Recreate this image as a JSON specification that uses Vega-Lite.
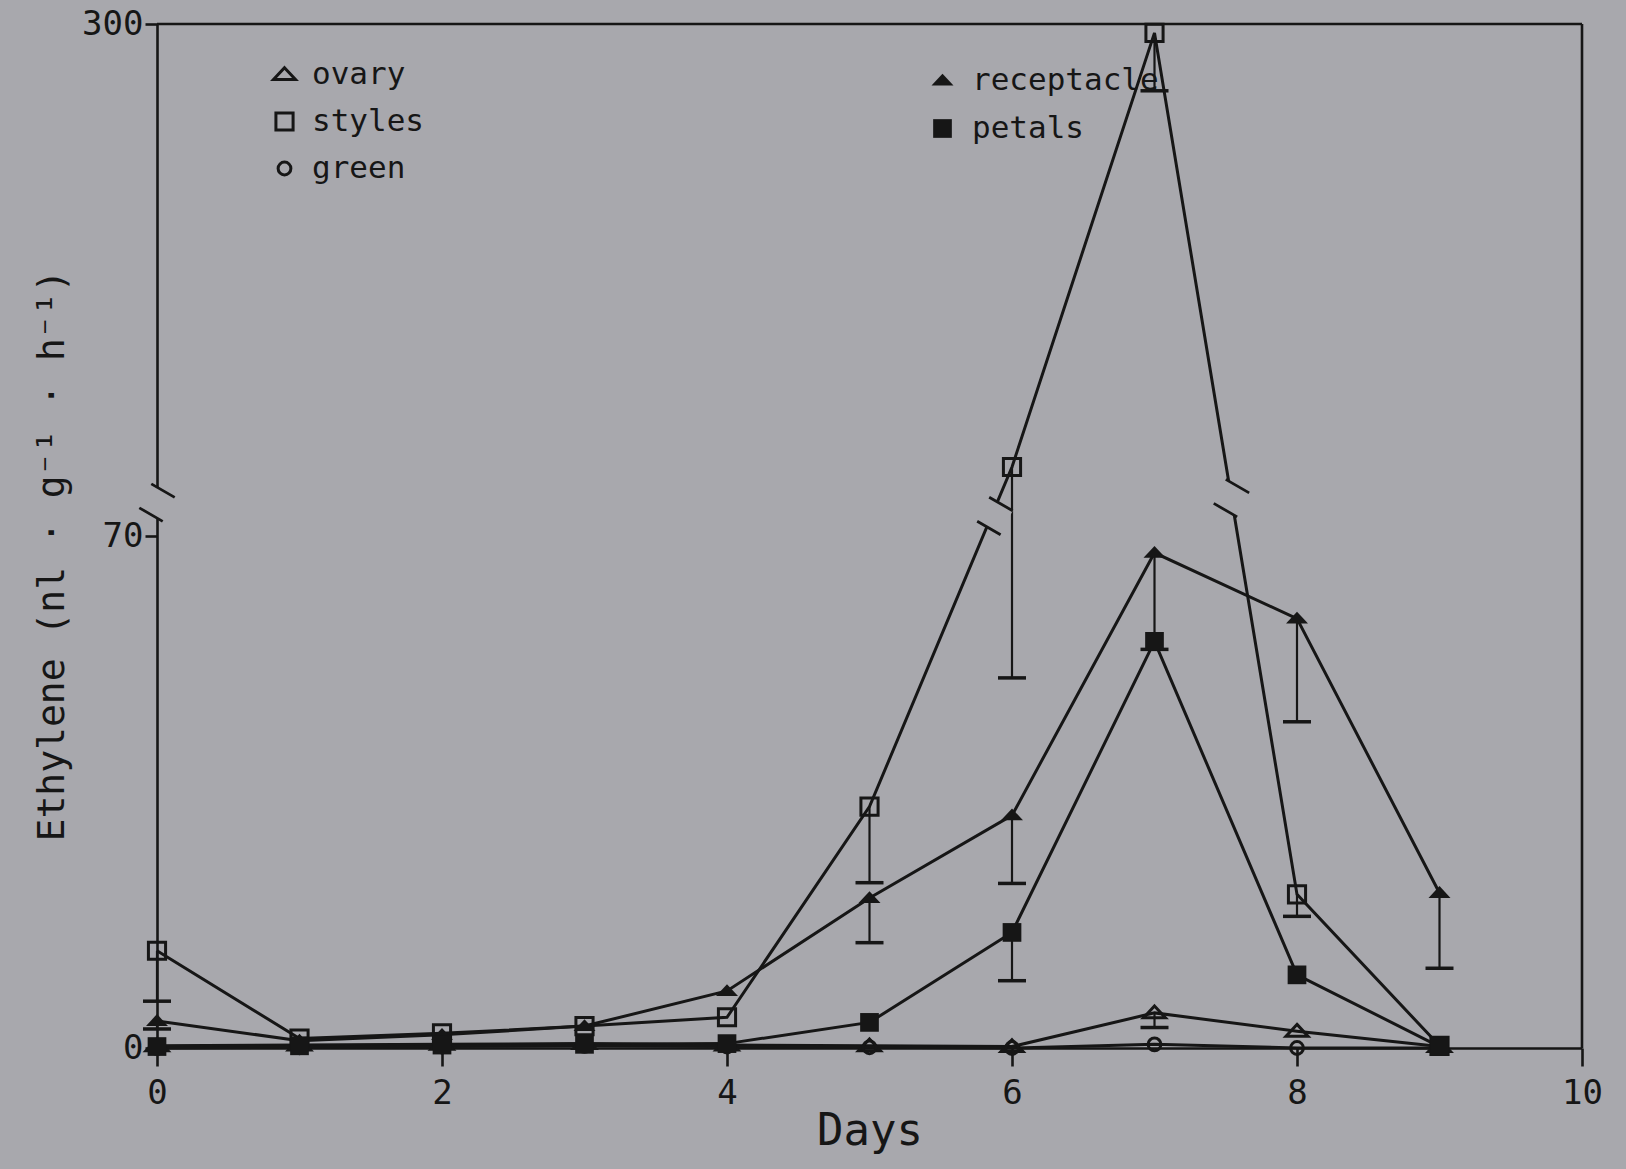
{
  "$schema": "https://vega.github.io/schema/vega-lite/v6.json",
  "width": 1425,
  "height": 1024,
  "autosize": "none",
  "padding": {"left": 157, "top": 24, "right": 44, "bottom": 121},
  "background": "#a8a8ad",
  "config": {
    "view": {"stroke": null},
    "font": "DejaVu Sans Mono",
    "axis": {
      "grid": false,
      "domainColor": "#161616",
      "domainWidth": 2.6,
      "tickColor": "#161616",
      "tickWidth": 2.6,
      "labelColor": "#161616",
      "titleColor": "#161616",
      "labelFont": "DejaVu Sans Mono",
      "titleFont": "DejaVu Sans Mono",
      "titleFontWeight": "normal",
      "labelFlush": false,
      "labelOverlap": false
    }
  },
  "datasets": {
    "flux": [
      {"day": 0, "tissue": "styles", "ethylene": 13.3, "low": 6.4},
      {"day": 1, "tissue": "styles", "ethylene": 1.3},
      {"day": 2, "tissue": "styles", "ethylene": 2.0},
      {"day": 3, "tissue": "styles", "ethylene": 3.0},
      {"day": 4, "tissue": "styles", "ethylene": 4.2},
      {"day": 5, "tissue": "styles", "ethylene": 33, "low": 22.6},
      {"day": 6, "tissue": "styles", "ethylene": 101, "low": 50.6},
      {"day": 7, "tissue": "styles", "ethylene": 296, "low": 270},
      {"day": 8, "tissue": "styles", "ethylene": 21, "low": 18},
      {"day": 9, "tissue": "styles", "ethylene": 0.3},
      {"day": 0, "tissue": "receptacle", "ethylene": 3.7, "low": 2.6},
      {"day": 1, "tissue": "receptacle", "ethylene": 1.0},
      {"day": 2, "tissue": "receptacle", "ethylene": 1.8},
      {"day": 3, "tissue": "receptacle", "ethylene": 3.0},
      {"day": 4, "tissue": "receptacle", "ethylene": 7.8},
      {"day": 5, "tissue": "receptacle", "ethylene": 20.5, "low": 14.4},
      {"day": 6, "tissue": "receptacle", "ethylene": 31.8, "low": 22.5},
      {"day": 7, "tissue": "receptacle", "ethylene": 67.7, "low": 54.5},
      {"day": 8, "tissue": "receptacle", "ethylene": 58.7, "low": 44.6},
      {"day": 9, "tissue": "receptacle", "ethylene": 21.2, "low": 10.9},
      {"day": 0, "tissue": "petals", "ethylene": 0.2},
      {"day": 1, "tissue": "petals", "ethylene": 0.3},
      {"day": 2, "tissue": "petals", "ethylene": 0.4},
      {"day": 3, "tissue": "petals", "ethylene": 0.5},
      {"day": 4, "tissue": "petals", "ethylene": 0.6},
      {"day": 5, "tissue": "petals", "ethylene": 3.5},
      {"day": 6, "tissue": "petals", "ethylene": 15.8, "low": 9.2},
      {"day": 7, "tissue": "petals", "ethylene": 55.6},
      {"day": 8, "tissue": "petals", "ethylene": 10},
      {"day": 9, "tissue": "petals", "ethylene": 0.2},
      {"day": 0, "tissue": "ovary", "ethylene": 0.3},
      {"day": 1, "tissue": "ovary", "ethylene": 0.4},
      {"day": 2, "tissue": "ovary", "ethylene": 0.5},
      {"day": 3, "tissue": "ovary", "ethylene": 0.6},
      {"day": 4, "tissue": "ovary", "ethylene": 0.4},
      {"day": 5, "tissue": "ovary", "ethylene": 0.3},
      {"day": 6, "tissue": "ovary", "ethylene": 0.2},
      {"day": 7, "tissue": "ovary", "ethylene": 4.8, "low": 2.8},
      {"day": 8, "tissue": "ovary", "ethylene": 2.3},
      {"day": 9, "tissue": "ovary", "ethylene": 0.2},
      {"day": 0, "tissue": "green", "ethylene": 0},
      {"day": 1, "tissue": "green", "ethylene": 0.1},
      {"day": 2, "tissue": "green", "ethylene": 0.2},
      {"day": 3, "tissue": "green", "ethylene": 0.3},
      {"day": 4, "tissue": "green", "ethylene": 0.2},
      {"day": 5, "tissue": "green", "ethylene": 0.1},
      {"day": 6, "tissue": "green", "ethylene": 0},
      {"day": 7, "tissue": "green", "ethylene": 0.5},
      {"day": 8, "tissue": "green", "ethylene": 0},
      {"day": 9, "tissue": "green", "ethylene": 0}
    ],
    "breaks": [
      {"day": 0, "ethylene": 85},
      {"day": 5.88, "ethylene": 79},
      {"day": 7.54, "ethylene": 87}
    ]
  },
  "data": {"name": "flux"},
  "layer": [
    {
      "mark": {"type": "line", "color": "#161616", "strokeWidth": 3},
      "encoding": {
        "x": {
          "field": "day",
          "type": "quantitative",
          "scale": {"domain": [0, 10], "nice": false, "zero": false},
          "axis": {
            "values": [0, 2, 4, 6, 8, 10],
            "format": "d",
            "tickSize": 18,
            "labelPadding": 10,
            "labelFontSize": 34,
            "title": "Days",
            "titleFontSize": 44,
            "titleY": 83,
            "titleBaseline": "middle"
          }
        },
        "y": {
          "field": "ethylene",
          "type": "quantitative",
          "scale": {"domain": [0, 70, 300], "range": [1024, 512, 0], "nice": false, "zero": false},
          "axis": {
            "values": [0, 70, 300],
            "format": "d",
            "tickSize": 12,
            "labelPadding": 2,
            "labelFontSize": 34,
            "title": "Ethylene (nl · g⁻¹ · h⁻¹)",
            "titleFontSize": 38,
            "titleAngle": -90,
            "titleX": -105,
            "titleY": 531,
            "titleAlign": "center",
            "titleBaseline": "middle"
          }
        },
        "detail": {"field": "tissue"},
        "order": {"field": "day"}
      }
    },
    {
      "transform": [{"filter": "datum.low != null"}],
      "mark": {"type": "rule", "color": "#161616", "strokeWidth": 2.2},
      "encoding": {
        "x": {"field": "day", "type": "quantitative"},
        "y": {"field": "ethylene", "type": "quantitative"},
        "y2": {"field": "low"}
      }
    },
    {
      "transform": [{"filter": "datum.low != null"}],
      "mark": {"type": "tick", "orient": "horizontal", "size": 28, "thickness": 3.5, "color": "#161616", "opacity": 1},
      "encoding": {
        "x": {"field": "day", "type": "quantitative"},
        "y": {"field": "low", "type": "quantitative"}
      }
    },
    {
      "data": {"values": [{}]},
      "mark": {"type": "rule", "color": "#161616", "strokeWidth": 2.6},
      "encoding": {
        "x": {"datum": 0},
        "x2": {"datum": 10},
        "y": {"datum": 300}
      }
    },
    {
      "data": {"values": [{}]},
      "mark": {"type": "rule", "color": "#161616", "strokeWidth": 2.6},
      "encoding": {
        "x": {"datum": 10},
        "y": {"datum": 0},
        "y2": {"datum": 300}
      }
    },
    {
      "data": {"name": "breaks"},
      "mark": {
        "type": "point",
        "shape": "M-0.38,-1.25L1.18,-0.35L0.38,1.25L-1.18,0.35Z",
        "filled": true,
        "color": "#a8a8ad",
        "opacity": 1,
        "size": 900
      },
      "encoding": {
        "x": {"field": "day", "type": "quantitative"},
        "y": {"field": "ethylene", "type": "quantitative"}
      }
    },
    {
      "data": {"name": "breaks"},
      "mark": {
        "type": "point",
        "shape": "M-0.38,-1.25L1.18,-0.35M-1.18,0.35L0.38,1.25",
        "filled": false,
        "color": "#161616",
        "strokeWidth": 2.8,
        "opacity": 1,
        "size": 900
      },
      "encoding": {
        "x": {"field": "day", "type": "quantitative"},
        "y": {"field": "ethylene", "type": "quantitative"}
      }
    },
    {
      "transform": [{"filter": "indexof(['ovary','styles','green'], datum.tissue) >= 0"}],
      "mark": {"type": "point", "filled": false, "color": "#161616", "strokeWidth": 3, "opacity": 1, "size": 484},
      "encoding": {
        "x": {"field": "day", "type": "quantitative"},
        "y": {"field": "ethylene", "type": "quantitative"},
        "shape": {
          "field": "tissue",
          "type": "nominal",
          "scale": {
            "domain": ["ovary", "styles", "green"],
            "range": [
              "M0,-0.62L1,0.45L-1,0.45Z",
              "M-0.78,-0.78H0.78V0.78H-0.78Z",
              "M0.58,0A0.58,0.58 0 1,1 -0.58,0A0.58,0.58 0 1,1 0.58,0Z"
            ]
          },
          "legend": {
            "orient": "none",
            "legendX": 112,
            "legendY": 35,
            "title": null,
            "padding": 0,
            "symbolSize": 484,
            "symbolFillColor": "transparent",
            "symbolStrokeColor": "#161616",
            "symbolStrokeWidth": 3,
            "labelFont": "DejaVu Sans Mono",
            "labelFontSize": 31,
            "labelColor": "#161616",
            "labelOffset": 12,
            "labelLimit": 0,
            "rowPadding": 15
          }
        }
      }
    },
    {
      "transform": [{"filter": "indexof(['receptacle','petals'], datum.tissue) >= 0"}],
      "mark": {"type": "point", "filled": true, "color": "#161616", "opacity": 1, "size": 484},
      "encoding": {
        "x": {"field": "day", "type": "quantitative"},
        "y": {"field": "ethylene", "type": "quantitative"},
        "shape": {
          "field": "tissue",
          "type": "nominal",
          "scale": {
            "domain": ["receptacle", "petals"],
            "range": [
              "M0,-0.62L1,0.45L-1,0.45Z",
              "M-0.85,-0.85H0.85V0.85H-0.85Z"
            ]
          },
          "legend": {
            "orient": "none",
            "legendX": 770,
            "legendY": 41,
            "title": null,
            "padding": 0,
            "symbolSize": 484,
            "symbolFillColor": "#161616",
            "symbolStrokeColor": "#161616",
            "symbolStrokeWidth": 0,
            "labelFont": "DejaVu Sans Mono",
            "labelFontSize": 31,
            "labelColor": "#161616",
            "labelOffset": 14,
            "labelLimit": 0,
            "rowPadding": 16
          }
        }
      }
    }
  ],
  "resolve": {"scale": {"shape": "independent"}, "legend": {"shape": "independent"}}
}
